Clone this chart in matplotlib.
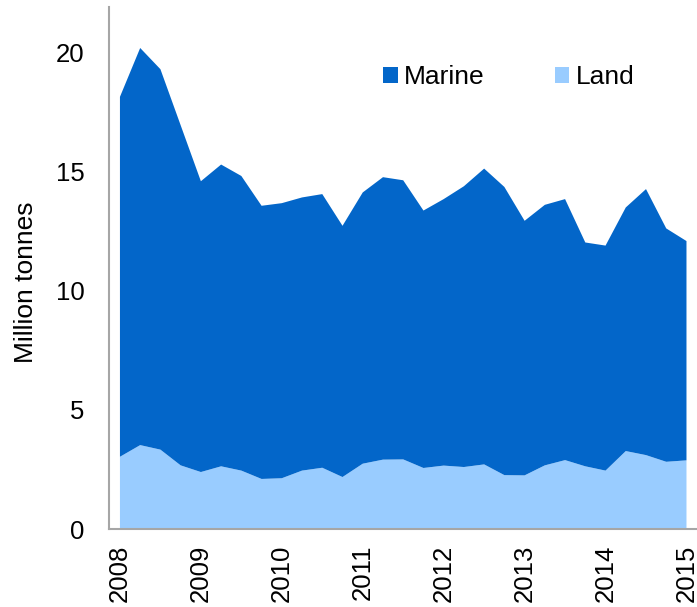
import matplotlib
matplotlib.use("Agg")
import matplotlib.pyplot as plt
import numpy as np

plt.rcParams['font.family'] = ['Liberation Sans', 'DejaVu Sans']

# Quarterly data, 2008 Q1 .. 2015 Q1
quarters = np.arange(29) / 4.0 + 2008
total = [18.13, 20.18, 19.29, 16.94, 14.59, 15.29, 14.81, 13.56,
         13.67, 13.91, 14.05, 12.72, 14.12, 14.76, 14.63, 13.36,
         13.84, 14.38, 15.12, 14.35, 12.93, 13.60, 13.84, 12.02,
         11.89, 13.49, 14.26, 12.61, 12.08]
land = [3.03, 3.52, 3.33, 2.67, 2.39, 2.63, 2.45, 2.10,
        2.13, 2.45, 2.57, 2.18, 2.74, 2.91, 2.92, 2.56,
        2.66, 2.60, 2.71, 2.26, 2.25, 2.67, 2.89, 2.63,
        2.45, 3.27, 3.10, 2.82, 2.88]
marine = [t - l for t, l in zip(total, land)]
year_ticks = list(range(2008, 2016))

fig = plt.figure(figsize=(6.97, 6.07), dpi=100)
ax = fig.add_axes([0.157, 0.1285, 0.843, 0.86])
ax.stackplot(quarters, land, marine, colors=['#99CCFF', '#0366C9'],
             labels=['Land', 'Marine'], linewidth=0)

ax.set_xlim(2008 - 0.13, 2015 + 0.13)
ax.set_ylim(0, 21.9)
ax.set_yticks([0, 5, 10, 15, 20])
ax.set_xticks(year_ticks)
ax.set_xticklabels([str(y) for y in year_ticks], rotation=90)
ax.tick_params(length=0, labelsize=18.5, pad=11)
ax.tick_params(axis='y', pad=18)
for s in ['top', 'right']:
    ax.spines[s].set_visible(False)
for s in ['left', 'bottom']:
    ax.spines[s].set_color('#A6A6A6')
    ax.spines[s].set_linewidth(1.5)
ax.set_ylabel('Million tonnes', fontsize=19)
ax.yaxis.set_label_coords(-0.122, 0.473)

h, l = ax.get_legend_handles_labels()
ax.legend(h[::-1], l[::-1], ncol=2, frameon=False, fontsize=19,
          loc='center', bbox_to_anchor=(0.68, 0.866),
          handlelength=0.55, handleheight=0.55, handletextpad=0.25,
          columnspacing=2.65)

fig.savefig('out.png', dpi=100)
